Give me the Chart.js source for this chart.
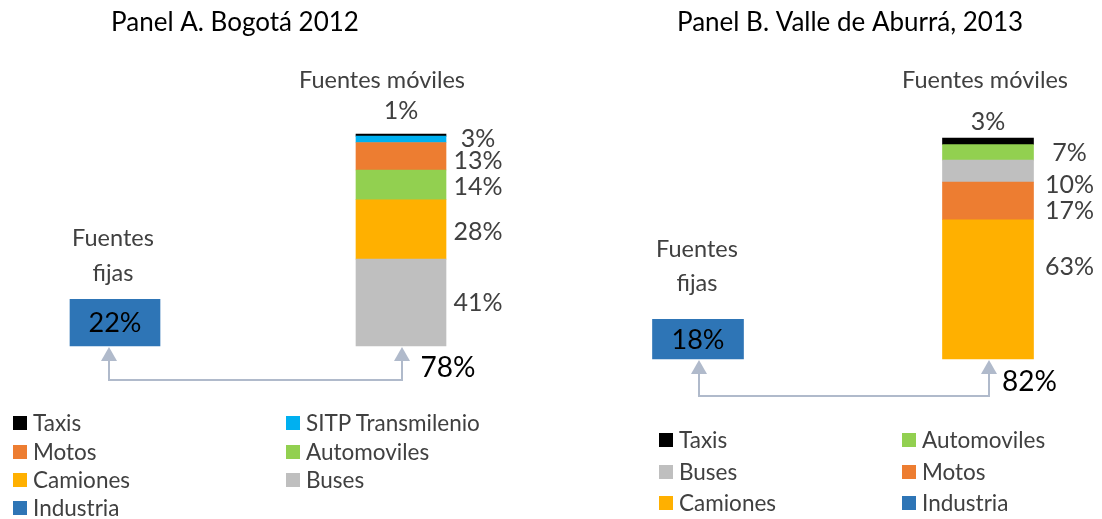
<!DOCTYPE html>
<html>
<head>
<meta charset="utf-8">
<script src="https://cdn.jsdelivr.net/npm/chart.js@4"></script>
<style>
  body { margin: 0; background: #fff; width: 1102px; height: 519px; overflow: hidden; position: relative; font-family: Lato, sans-serif; }
  canvas { position: absolute; top: 0; }
  .item { position: absolute; white-space: nowrap; font-size: 22.5px; color: #404040; line-height: 24px; }
  .sw { position: absolute; width: 14px; height: 14px; left: -20px; top: 5px; }
</style>
</head>
<body>
<canvas id="panelA" width="551" height="519" style="left:0"></canvas>
<canvas id="panelB" width="551" height="519" style="left:551px"></canvas>
<div id="legendas"></div>
<script>
// categorias del eje x
const categorias = ['Fuentes fijas', 'Fuentes móviles'];

// Panel A - Bogotá 2012 (de abajo hacia arriba)
const seriesA = ['Buses', 'Camiones', 'Automoviles', 'Motos', 'SITP Transmilenio', 'Taxis'];
const valoresA = [41, 28, 14, 13, 3, 1];
const industriaA = 22;
const totalMovilesA = 78;

// Panel B - Valle de Aburrá 2013
const seriesB = ['Camiones', 'Motos', 'Buses', 'Automoviles', 'Taxis'];
const valoresB = [63, 17, 10, 7, 3];
const industriaB = 18;
const totalMovilesB = 82;

const colores = {
  'Taxis': '#000000',
  'SITP Transmilenio': '#00B0F0',
  'Motos': '#ED7D31',
  'Automoviles': '#92D050',
  'Camiones': '#FFB000',
  'Buses': '#BFBFBF',
  'Industria': '#2E75B6'
};

const leyendaA = ['Taxis', 'SITP Transmilenio', 'Motos', 'Automoviles', 'Camiones', 'Buses', 'Industria'];
const leyendaB = ['Taxis', 'Automoviles', 'Buses', 'Motos', 'Camiones', 'Industria'];

const FONT = 'Lato, sans-serif';
const GRIS = '#404040';
const FLECHA = '#B0BACB';

// textos y flechas encima de las barras
const anotaciones = {
  id: 'anotaciones',
  afterDatasetsDraw(chart, args, o) {
    const ctx = chart.ctx;
    const ds = chart.data.datasets;
    const caja = chart.getDatasetMeta(0).data[0];
    ctx.save();
    ctx.textAlign = 'center';
    ctx.textBaseline = 'middle';

    // titulo
    ctx.fillStyle = '#000';
    ctx.font = '26px ' + FONT;
    ctx.fillText(o.titulo, o.tituloX, 23);

    // fuentes fijas
    ctx.fillStyle = GRIS;
    ctx.font = '23.5px ' + FONT;
    ctx.fillText('Fuentes', caja.x + o.fijasDx, caja.y + o.fijasDy[0]);
    ctx.fillText('fijas', caja.x + o.fijasDx, caja.y + o.fijasDy[1]);
    ctx.fillStyle = '#000';
    ctx.font = '27px ' + FONT;
    ctx.fillText(ds[0].data[0] + '%', caja.x, (caja.y + caja.base) / 2 + 1);

    // segmentos de fuentes moviles
    ctx.font = '25px ' + FONT;
    ctx.fillStyle = GRIS;
    for (let i = 1; i < ds.length; i++) {
      const el = chart.getDatasetMeta(i).data[1];
      const txt = ds[i].data[1] + '%';
      if (i === ds.length - 1) {
        ctx.fillText(txt, el.x, el.y - o.arribaDy);
      } else {
        ctx.fillText(txt, el.x + el.width / 2 + o.etiquetaDx, (el.y + el.base) / 2 + o.ajustes[i - 1]);
      }
    }
    const base = chart.getDatasetMeta(1).data[1];
    ctx.font = '23.5px ' + FONT;
    ctx.fillText('Fuentes móviles', base.x + o.movilesDx, 80);

    // total moviles
    ctx.fillStyle = '#000';
    ctx.font = '28px ' + FONT;
    ctx.fillText(o.total + '%', base.x + base.width / 2 + o.totalDx, base.base + o.totalDy);

    // flecha de conexion
    const x1 = caja.x + o.flechaDx, x2 = base.x + 1;
    const yl = base.base + o.lineaDy;
    ctx.strokeStyle = FLECHA;
    ctx.lineWidth = 2;
    ctx.beginPath();
    ctx.moveTo(x1, caja.base + 12);
    ctx.lineTo(x1, yl);
    ctx.lineTo(x2, yl);
    ctx.lineTo(x2, base.base + 12);
    ctx.stroke();
    ctx.fillStyle = FLECHA;
    [[x1, caja.base], [x2, base.base]].forEach(([x, y]) => {
      ctx.beginPath();
      ctx.moveTo(x, y + 1);
      ctx.lineTo(x - 8, y + 15);
      ctx.lineTo(x + 8, y + 15);
      ctx.closePath();
      ctx.fill();
    });
    ctx.restore();
  }
};

function panel(id, series, valores, industria, grosor, padding, notas) {
  const datasets = [{
    label: 'Industria',
    data: [industria, null],
    backgroundColor: colores['Industria'],
    barThickness: grosor,
    clip: false
  }];
  series.forEach((s, i) => {
    datasets.push({
      label: s,
      data: [null, valores[i]],
      backgroundColor: colores[s],
      barThickness: grosor,
      clip: false
    });
  });
  return new Chart(document.getElementById(id), {
    type: 'bar',
    data: { labels: categorias, datasets: datasets },
    options: {
      responsive: false,
      animation: false,
      layout: { padding: padding },
      scales: {
        x: { stacked: true, display: false, offset: false },
        y: { stacked: true, display: false, min: 0, max: 100 }
      },
      plugins: {
        legend: { display: false },
        tooltip: { enabled: false },
        anotaciones: notas
      }
    },
    plugins: [anotaciones]
  });
}

panel('panelA', seriesA, valoresA, industriaA, 90,
  { left: 115, right: 150, top: 134, bottom: 173 },
  { titulo: 'Panel A. Bogotá 2012', tituloX: 235, fijasDx: -2, fijasDy: [-61, -26],
    arribaDy: 23, etiquetaDx: 32, ajustes: [0, 3, 2, 5, 0], movilesDx: -19,
    total: totalMovilesA, totalDx: 2, totalDy: 22, flechaDx: -6, lineaDy: 34 });

panel('panelB', seriesB, valoresB, industriaB, 91,
  { left: 147, right: 114, top: 138, bottom: 160 },
  { titulo: 'Panel B. Valle de Aburrá, 2013', tituloX: 299, fijasDx: -1, fijasDy: [-70, -36],
    arribaDy: 16, etiquetaDx: 36, ajustes: [-22, 10, 14, 1], movilesDx: -3,
    total: totalMovilesB, totalDx: -4, totalDy: 23, flechaDx: 1, lineaDy: 37 });

// leyendas en dos columnas
function leyenda(items, cols, filas) {
  const cont = document.getElementById('legendas');
  items.forEach((nombre, i) => {
    const d = document.createElement('div');
    d.className = 'item';
    d.style.left = cols[i % 2] + 'px';
    d.style.top = (filas[Math.floor(i / 2)] - 12) + 'px';
    d.innerHTML = '<span class="sw" style="background:' + colores[nombre] + '"></span>' + nombre;
    cont.appendChild(d);
  });
}
leyenda(leyendaA, [33, 306], [423, 452, 480, 508]);
leyenda(leyendaB, [679, 922], [440, 472, 503]);
</script>
</body>
</html>
